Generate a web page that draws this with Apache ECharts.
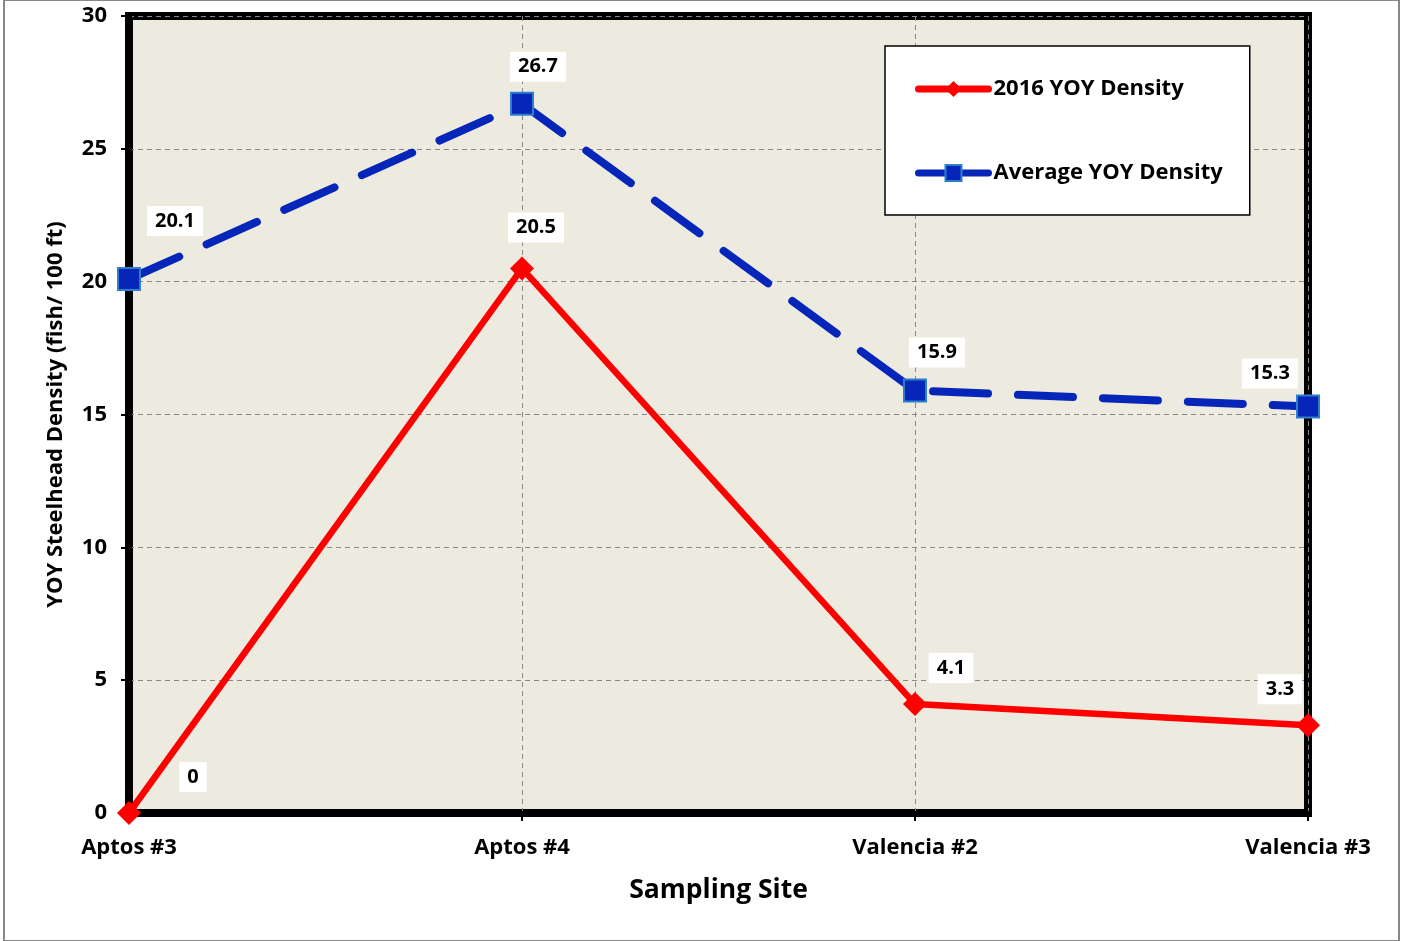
<!DOCTYPE html>
<html><head><meta charset="utf-8">
<script src="https://cdn.jsdelivr.net/npm/echarts@6/dist/echarts.min.js"></script>
<style>html,body{margin:0;padding:0;background:#fff}#c{width:1403px;height:941px}</style>
</head><body><div id="c"></div>
<script>
const categories = ['Aptos #3', 'Aptos #4', 'Valencia #2', 'Valencia #3'];
const yoy2016 = [0, 20.5, 4.1, 3.3];
const yoyAverage = [20.1, 26.7, 15.9, 15.3];
const yTicks = [0, 5, 10, 15, 20, 25, 30];

const FONT = '"Open Sans", "Noto Sans", sans-serif';
const redOffsets = [[64,-36],[14,-41],[36,-36],[-28,-36]];
const blueOffsets = [[46,-58],[16,-37],[22,-38],[-38,-33]];

function withLabels(vals, offs){
  return vals.map((v,i)=>({value:v, label:{offset:offs[i]}}));
}
const labelStyle = {
  show:true, position:'inside', color:'#000', fontFamily:FONT, fontWeight:'bold',
  fontSize:20, backgroundColor:'#fff', padding:[6,8,4,8]
};

const chart = echarts.init(document.getElementById('c'), null, {renderer:'canvas'});
chart.setOption({
  animation:false,
  backgroundColor:'#fff',
  textStyle:{fontFamily:FONT},
  grid:{left:129, right:95, top:16, bottom:128, show:true, backgroundColor:'#EDEADF', borderColor:'#000', borderWidth:8},
  legend:{
    orient:'vertical', left:885, top:46,
    backgroundColor:'#fff', borderColor:'#000', borderWidth:1.5,
    padding:[32,27,31,30], itemGap:62, itemWidth:70, itemHeight:20,
    textStyle:{fontFamily:FONT, fontWeight:'bold', fontSize:22, color:'#000'},
    data:['2016 YOY Density','Average YOY Density'],
    lineStyle:{type:'solid', width:7, cap:'round'}
  },
  xAxis:{
    type:'category', data:categories, boundaryGap:false,
    name:'Sampling Site', nameLocation:'middle', nameGap:64,
    nameTextStyle:{fontFamily:FONT, fontWeight:'bold', fontSize:26.5, color:'#000'},
    axisLine:{show:true, lineStyle:{color:'#000', width:5}},
    axisTick:{show:true, length:8, lineStyle:{color:'#000', width:2}},
    axisLabel:{fontFamily:FONT, fontWeight:'bold', fontSize:22, color:'#000', margin:24},
    splitLine:{show:true, lineStyle:{color:'#888', type:[5,4], width:1}}
  },
  yAxis:{
    type:'value', min:0, max:30, interval:5,
    name:'YOY Steelhead Density (fish/ 100 ft)', nameLocation:'middle', nameGap:62,
    nameTextStyle:{fontFamily:FONT, fontWeight:'bold', fontSize:22, color:'#000'},
    axisLine:{show:true, lineStyle:{color:'#000', width:5}},
    axisTick:{show:true, length:8, lineStyle:{color:'#000', width:2}},
    axisLabel:{fontFamily:FONT, fontWeight:'bold', fontSize:22, color:'#000', margin:22,
      formatter:v=> yTicks.includes(v) ? String(v) : ''},
    splitLine:{show:true, lineStyle:{color:'#888', type:[5,4], width:1}}
  },
  series:[
    {
      name:'2016 YOY Density', type:'line', clip:false, z:3,
      data:withLabels(yoy2016, redOffsets),
      symbol:'diamond', symbolSize:[24,24], showAllSymbol:true,
      lineStyle:{color:'#FF0000', width:6.5},
      itemStyle:{color:'#FF0000', borderWidth:0},
      label:labelStyle
    },
    {
      name:'Average YOY Density', type:'line', clip:false, z:4,
      data:withLabels(yoyAverage, blueOffsets),
      symbol:'rect', symbolSize:22, showAllSymbol:true,
      lineStyle:{color:'#0526B8', width:8, type:[55,30], cap:'round'},
      itemStyle:{color:'#0526B8', borderColor:'#2E7FCB', borderWidth:2},
      label:labelStyle
    }
  ],
  graphic:[
    {type:'rect', shape:{x:4, y:0, width:1395, height:941}, style:{fill:'none', stroke:'#888', lineWidth:2}, silent:true, z:-1}
  ]
});
</script></body></html>
